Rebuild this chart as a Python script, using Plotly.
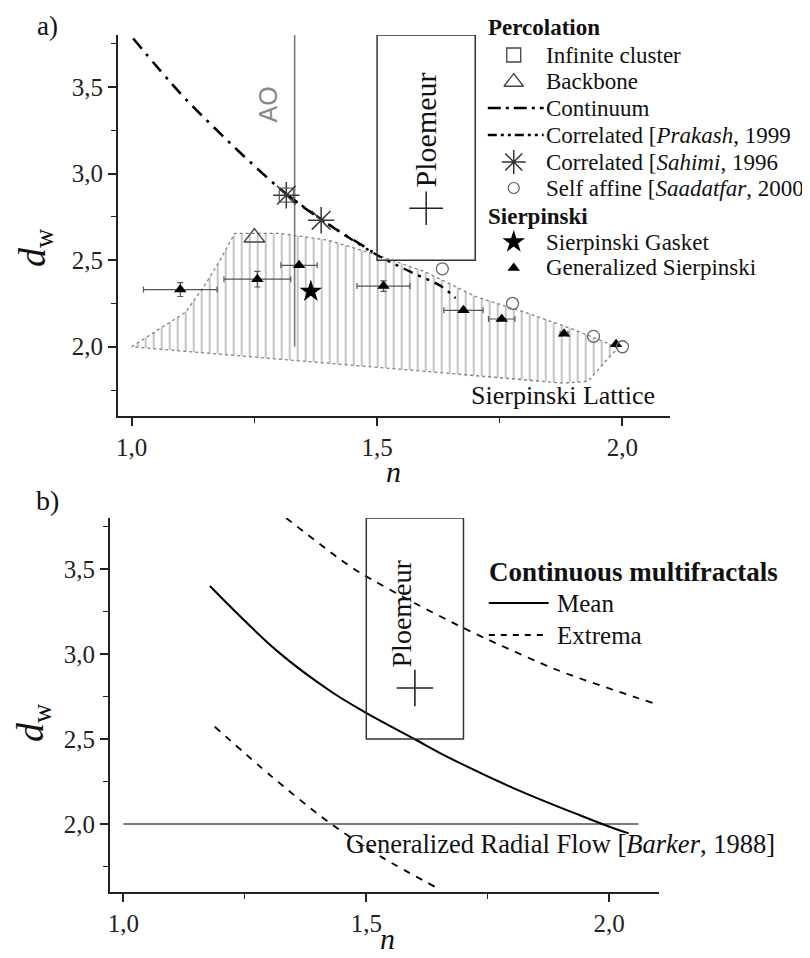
import plotly.graph_objects as go

W, H = 810, 958
OFF = 8               # page body margin of the exported html
FW, FH = W - OFF, H - OFF

# ---------------- data: panel a ----------------
continuum_n = [1.003, 1.10, 1.17, 1.24, 1.32, 1.41, 1.47, 1.50]
continuum_dw = [3.78, 3.46, 3.26, 3.07, 2.87, 2.69, 2.585, 2.53]
prakash_n = [1.32, 1.41, 1.50, 1.57, 1.63, 1.66]
prakash_dw = [2.87, 2.69, 2.53, 2.43, 2.35, 2.28]
sahimi_n = [1.315, 1.386]
sahimi_dw = [2.875, 2.73]
infinite_n = [1.315]
infinite_dw = [2.875]
backbone_n = [1.25]
backbone_dw = [2.63]
saadatfar_n = [1.633, 1.776, 1.941, 2.0]
saadatfar_dw = [2.45, 2.25, 2.06, 2.0]
gasket_n = [1.365]
gasket_dw = [2.32]
gen_n = [1.099, 1.256, 1.341, 1.513, 1.676, 1.754, 1.881, 1.987]
gen_dw = [2.33, 2.39, 2.47, 2.35, 2.21, 2.16, 2.075, 2.015]
gen_n_err = [0.075, 0.068, 0.037, 0.054, 0.040, 0.027, 0.008, 0.0]
gen_dw_err = [0.04, 0.045, 0.0, 0.03, 0.0, 0.0, 0.0, 0.0]
lattice_n = [1.0, 1.05, 1.11, 1.15, 1.18, 1.21, 1.30, 1.40, 1.50, 1.60, 1.70, 1.80,
             1.90, 1.97, 1.99, 1.97, 1.93, 1.88, 1.50, 1.20, 1.0]
lattice_dw = [2.0, 2.09, 2.20, 2.36, 2.50, 2.655, 2.655, 2.615, 2.53, 2.43, 2.29, 2.20,
              2.10, 2.02, 1.99, 1.93, 1.80, 1.79, 1.88, 1.95, 2.0]
ao_n = [1.332, 1.332]
ao_dw = [2.0, 3.8]
ploemeur_n = [1.6]
ploemeur_dw = [2.8]
box_n = [1.5, 1.7]
box_dw = [2.5, 3.8]

# ---------------- data: panel b ----------------
mean_n = [1.178, 1.318, 1.428, 1.496, 1.599, 1.667, 1.804, 1.941, 2.009, 2.04]
mean_dw = [3.40, 3.014, 2.778, 2.66, 2.50, 2.395, 2.21, 2.05, 1.975, 1.945]
ext_hi_n = [1.335, 1.448, 1.489, 1.599, 1.688, 1.745, 1.893, 2.05, 2.092]
ext_hi_dw = [3.80, 3.553, 3.475, 3.30, 3.17, 3.092, 2.906, 2.749, 2.71]
ext_lo_n = [1.188, 1.305, 1.421, 1.530, 1.647]
ext_lo_dw = [2.572, 2.28, 2.014, 1.808, 1.622]
grf_n = [1.0, 2.06]
grf_dw = [2.0, 2.0]

SERIF = "Liberation Serif"
SANS = "Liberation Sans"


def px(x):
    return (x - OFF) / FW


def py(y):
    return 1 - (y - OFF) / FH


fig = go.Figure()

# ---- panel a traces ----
fig.add_trace(go.Scatter(x=lattice_n, y=lattice_dw, mode="lines", fill="toself",
                         fillcolor="rgba(0,0,0,0)",
                         fillpattern=dict(shape="|", size=8, solidity=0.22, fgcolor="#7a7a7a",
                                          bgcolor="rgba(255,255,255,0)"),
                         line=dict(color="#808080", width=1.3, dash="dot"),
                         xaxis="x", yaxis="y", showlegend=False, hoverinfo="skip"))
fig.add_trace(go.Scatter(x=ao_n, y=ao_dw, mode="lines", line=dict(color="#7a7a7a", width=1.6),
                         xaxis="x", yaxis="y", showlegend=False))
fig.add_trace(go.Scatter(x=continuum_n, y=continuum_dw, mode="lines",
                         line=dict(color="black", width=2.6, dash="13px,7px,3px,7px",
                                   shape="spline", smoothing=1.0),
                         xaxis="x", yaxis="y", showlegend=False))
fig.add_trace(go.Scatter(x=prakash_n, y=prakash_dw, mode="lines",
                         line=dict(color="black", width=2.4, dash="10px,6px,3px,6px,3px,6px",
                                   shape="spline", smoothing=1.0),
                         xaxis="x", yaxis="y", showlegend=False))
fig.add_trace(go.Scatter(x=gen_n, y=gen_dw, mode="markers",
                         marker=dict(symbol="triangle-up", size=11, color="black"),
                         error_x=dict(type="data", array=gen_n_err, color="#555", thickness=1.2, width=3),
                         error_y=dict(type="data", array=gen_dw_err, color="#555", thickness=1.2, width=3),
                         xaxis="x", yaxis="y", showlegend=False))
fig.add_trace(go.Scatter(x=gasket_n, y=gasket_dw, mode="markers",
                         marker=dict(symbol="star", size=17, color="black"),
                         xaxis="x", yaxis="y", showlegend=False))
fig.add_trace(go.Scatter(x=backbone_n, y=backbone_dw, mode="markers",
                         marker=dict(symbol="triangle-up-open", size=18, color="#444",
                                     line=dict(width=1.5, color="#444")),
                         xaxis="x", yaxis="y", showlegend=False))
fig.add_trace(go.Scatter(x=infinite_n, y=infinite_dw, mode="markers",
                         marker=dict(symbol="square-open", size=14, color="#666",
                                     line=dict(width=1.3, color="#666")),
                         xaxis="x", yaxis="y", showlegend=False))
fig.add_trace(go.Scatter(x=sahimi_n, y=sahimi_dw, mode="markers",
                         marker=dict(symbol="asterisk-open", size=22, color="#3a3a3a",
                                     line=dict(width=1.5, color="#3a3a3a")),
                         xaxis="x", yaxis="y", showlegend=False))
fig.add_trace(go.Scatter(x=saadatfar_n, y=saadatfar_dw, mode="markers",
                         marker=dict(symbol="circle-open", size=12, color="#666",
                                     line=dict(width=1.3, color="#666")),
                         xaxis="x", yaxis="y", showlegend=False))
fig.add_trace(go.Scatter(x=[box_n[0], box_n[0], box_n[1], box_n[1], box_n[0]],
                         y=[box_dw[1], box_dw[0], box_dw[0], box_dw[1], box_dw[1]],
                         mode="lines", line=dict(color="#333", width=1.5),
                         xaxis="x", yaxis="y", showlegend=False))
fig.add_trace(go.Scatter(x=ploemeur_n, y=ploemeur_dw, mode="markers",
                         marker=dict(symbol="cross-thin-open", size=24, color="#222",
                                     line=dict(width=1.5, color="#222")),
                         xaxis="x", yaxis="y", showlegend=False))

# ---- panel b traces ----
fig.add_trace(go.Scatter(x=grf_n, y=grf_dw, mode="lines", line=dict(color="#7a7a7a", width=2.2),
                         xaxis="x2", yaxis="y2", showlegend=False))
fig.add_trace(go.Scatter(x=mean_n, y=mean_dw, mode="lines",
                         line=dict(color="black", width=2, shape="spline", smoothing=1.0),
                         xaxis="x2", yaxis="y2", showlegend=False))
fig.add_trace(go.Scatter(x=ext_hi_n, y=ext_hi_dw, mode="lines",
                         line=dict(color="black", width=1.8, dash="7px,7px", shape="spline", smoothing=0.8),
                         xaxis="x2", yaxis="y2", showlegend=False))
fig.add_trace(go.Scatter(x=ext_lo_n, y=ext_lo_dw, mode="lines",
                         line=dict(color="black", width=1.8, dash="7px,7px", shape="spline", smoothing=0.8),
                         xaxis="x2", yaxis="y2", showlegend=False))
fig.add_trace(go.Scatter(x=[box_n[0], box_n[0], box_n[1], box_n[1], box_n[0]],
                         y=[box_dw[1], box_dw[0], box_dw[0], box_dw[1], box_dw[1]],
                         mode="lines", line=dict(color="#333", width=1.5),
                         xaxis="x2", yaxis="y2", showlegend=False))
fig.add_trace(go.Scatter(x=ploemeur_n, y=ploemeur_dw, mode="markers",
                         marker=dict(symbol="cross-thin-open", size=26, color="#222",
                                     line=dict(width=1.6, color="#222")),
                         xaxis="x2", yaxis="y2", showlegend=False))

# ---- legend symbols (overlay axes in page pixel units) ----
leg_sym_x = 513
fig.add_trace(go.Scatter(x=[leg_sym_x], y=[55], mode="markers",
                         marker=dict(symbol="square-open", size=14, color="#444", line=dict(width=1.3, color="#444")),
                         xaxis="x3", yaxis="y3", showlegend=False))
fig.add_trace(go.Scatter(x=[leg_sym_x], y=[82], mode="markers",
                         marker=dict(symbol="triangle-up-open", size=17, color="#444", line=dict(width=1.3, color="#444")),
                         xaxis="x3", yaxis="y3", showlegend=False))
fig.add_trace(go.Scatter(x=[leg_sym_x], y=[162], mode="markers",
                         marker=dict(symbol="asterisk-open", size=20, color="#333", line=dict(width=1.5, color="#333")),
                         xaxis="x3", yaxis="y3", showlegend=False))
fig.add_trace(go.Scatter(x=[leg_sym_x], y=[188], mode="markers",
                         marker=dict(symbol="circle-open", size=11, color="#555", line=dict(width=1.2, color="#555")),
                         xaxis="x3", yaxis="y3", showlegend=False))
fig.add_trace(go.Scatter(x=[leg_sym_x], y=[242], mode="markers",
                         marker=dict(symbol="star", size=17, color="black"),
                         xaxis="x3", yaxis="y3", showlegend=False))
fig.add_trace(go.Scatter(x=[leg_sym_x], y=[268], mode="markers",
                         marker=dict(symbol="triangle-up", size=11, color="black"),
                         xaxis="x3", yaxis="y3", showlegend=False))

shapes = [
    dict(type="line", xref="paper", yref="paper", x0=px(487), x1=px(543), y0=py(108), y1=py(108),
         line=dict(color="black", width=2.6, dash="13px,5px,3px,5px")),
    dict(type="line", xref="paper", yref="paper", x0=px(487), x1=px(543), y0=py(135), y1=py(135),
         line=dict(color="black", width=2.4, dash="9px,4px,3px,4px,3px,4px")),
    dict(type="line", xref="paper", yref="paper", x0=px(488), x1=px(548), y0=py(603), y1=py(603),
         line=dict(color="black", width=2)),
    dict(type="line", xref="paper", yref="paper", x0=px(488), x1=px(548), y0=py(635), y1=py(635),
         line=dict(color="black", width=1.8, dash="6px,6px")),
]

ann = []


def text(x, y, s, size, xanchor="left", family=SERIF, color="#111", angle=0, ref="paper",
         xr=None, yr=None, yanchor="middle"):
    d = dict(text=s, showarrow=False, font=dict(family=family, size=size, color=color),
             xanchor=xanchor, yanchor=yanchor, textangle=angle)
    if ref == "paper":
        d.update(xref="paper", yref="paper", x=px(x), y=py(y))
    else:
        d.update(xref=xr, yref=yr, x=x, y=y)
    ann.append(d)


# legend texts panel a
LF = 23
text(485, 28, "<b>Percolation</b>", LF)
text(543, 55, "Infinite cluster", LF)
text(543, 82, "Backbone", LF)
text(543, 108, "Continuum", LF)
text(543, 135, "Correlated [<i>Prakash</i>, 1999", LF)
text(543, 162, "Correlated [<i>Sahimi</i>, 1996", LF)
text(543, 188, "Self affine [<i>Saadatfar</i>, 2000", LF)
text(485, 216, "<b>Sierpinski</b>", LF)
text(543, 242, "Sierpinski Gasket", LF)
text(543, 268, "Generalized Sierpinski", LF)

# legend texts panel b
text(486, 572, "<b>Continuous multifractals</b>", 27)
text(554, 603, "Mean", 25)
text(554, 635, "Extrema", 25)

# panel labels
text(46, 9, "a)", 27, xanchor="center", yanchor="top")
text(46, 500, "b)", 28, xanchor="center")

# axis titles
text(33, 247, "<i>d</i><sub>w</sub>", 38, xanchor="center", angle=-90)
text(31, 722, "<i>d</i><sub>w</sub>", 38, xanchor="center", angle=-90)
text(392, 472, "<i>n</i>", 30, xanchor="center")
text(386, 957, "<i>n</i>", 30, xanchor="center", yanchor="bottom")

# in-plot texts
text(1.278, 3.40, "AO", 25, xanchor="center", family=SANS, color="#888", angle=-90,
     ref="data", xr="x", yr="y")
text(1.598, 3.25, "Ploemeur", 30, xanchor="center", angle=-90, ref="data", xr="x", yr="y")
text(1.688, 1.72, "Sierpinski Lattice", 26, ref="data", xr="x", yr="y")
text(1.572, 3.24, "Ploemeur", 28, xanchor="center", angle=-90, ref="data", xr="x2", yr="y2")
text(1.455, 1.88, "Generalized Radial Flow [<i>Barker</i>, 1988]", 26.5, ref="data", xr="x2", yr="y2")

axis_common = dict(showline=True, linecolor="#222", linewidth=1.5, showgrid=False, zeroline=False,
                   ticks="outside", ticklen=8, tickwidth=1.5, tickcolor="#222",
                   tickfont=dict(family=SERIF, size=25, color="#222"), tickformat=".1f",
                   minor=dict(ticks="outside", ticklen=5, tickwidth=1.2, tickcolor="#222", dtick=0.25),
                   dtick=0.5, tick0=0, fixedrange=True)

fig.update_layout(
    width=FW, height=FH, margin=dict(l=0, r=0, t=0, b=0),
    paper_bgcolor="white", plot_bgcolor="rgba(0,0,0,0)",
    separators=",.",
    showlegend=False,
    xaxis=dict(domain=[px(116), px(670)], range=[0.9715, 2.0976], anchor="y", **axis_common),
    yaxis=dict(domain=[py(416), py(35)], range=[1.6, 3.8], anchor="x", **axis_common),
    xaxis2=dict(domain=[px(108), px(659)], range=[0.9719, 2.1033], anchor="y2", **axis_common),
    yaxis2=dict(domain=[py(892), py(518)], range=[1.6, 3.8], anchor="x2", **axis_common),
    xaxis3=dict(domain=[0, 1], range=[OFF, W], visible=False, anchor="y3", fixedrange=True),
    yaxis3=dict(domain=[0, 1], range=[H, OFF], visible=False, anchor="x3", fixedrange=True),
    shapes=shapes,
    annotations=ann,
)

fig.write_html("out.html")
